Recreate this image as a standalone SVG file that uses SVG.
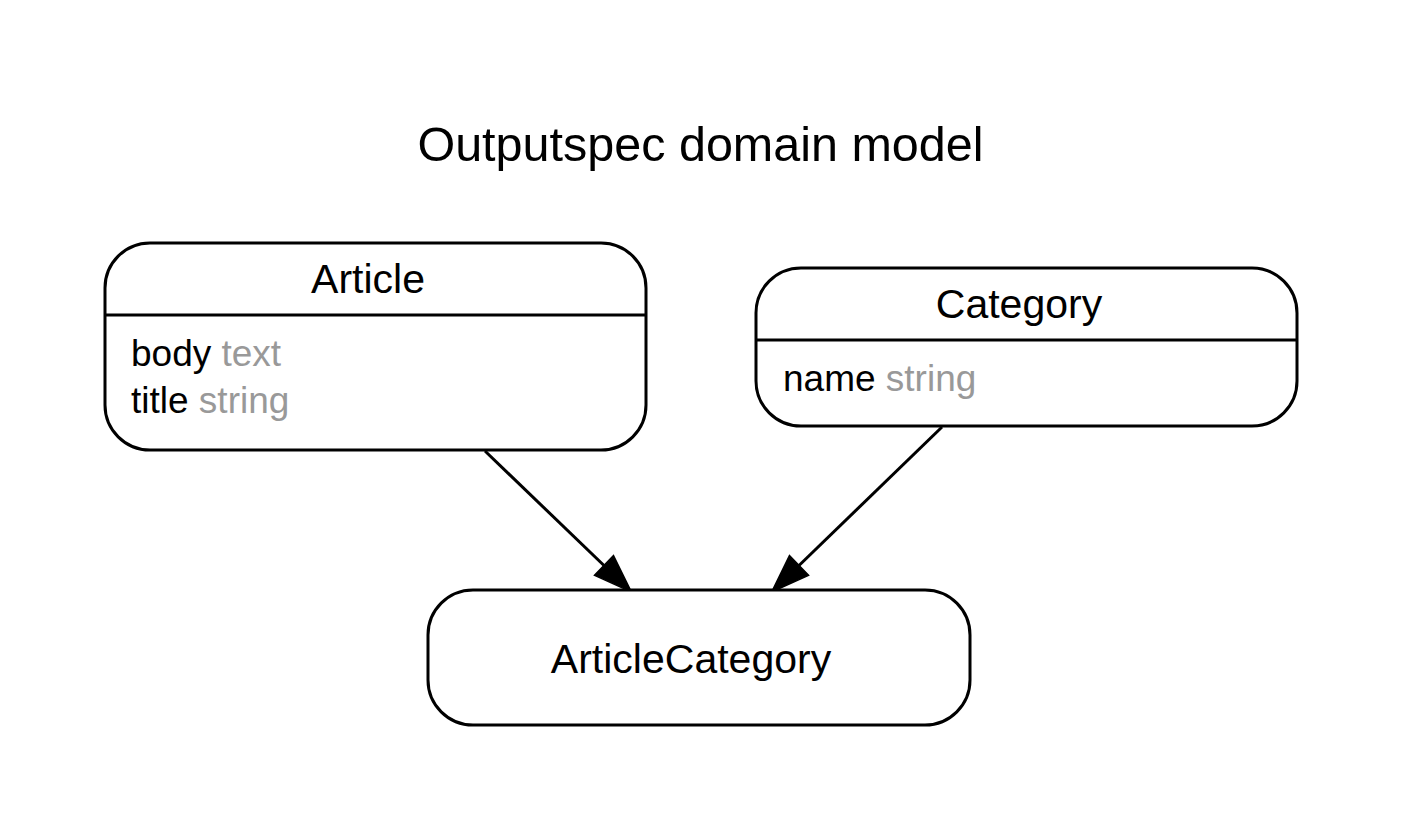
<svg xmlns="http://www.w3.org/2000/svg" width="1404" height="834" viewBox="0 0 1404 834">
<style>
.box{fill:#fff;stroke:#000;stroke-width:3}
.div{stroke:#000;stroke-width:3}
.name{font-family:"Liberation Sans",Arial,sans-serif;font-size:41px;fill:#000;text-anchor:middle}
.attr{font-family:"Liberation Sans",Arial,sans-serif;font-size:37px;fill:#000}
.type{fill:#999}
.title{font-family:"Liberation Sans",Arial,sans-serif;font-size:48.5px;fill:#000;text-anchor:middle}
.edge{stroke:#000;stroke-width:3;fill:none}
</style>
<defs>
<marker id="arrow" markerUnits="userSpaceOnUse" markerWidth="40" markerHeight="30" viewBox="0 -15 40 30" refX="0" refY="0" orient="auto" overflow="visible">
<path d="M0,-13.7 L38,0 L0,13.7 Z" fill="#000" stroke="#000" stroke-width="1.5" stroke-linejoin="miter"/>
</marker>
</defs>
<rect width="1404" height="834" fill="#fff"/>
<text class="title" x="700.5" y="161">Outputspec domain model</text>
<g id="connectors">
<line class="edge" x1="485" y1="451" x2="604" y2="565.5" marker-end="url(#arrow)"/>
<line class="edge" x1="942" y1="427" x2="799" y2="565.5" marker-end="url(#arrow)"/>
</g>
<g id="Article">
<rect class="box" x="105" y="243" width="541" height="207" rx="45" ry="45"/>
<line class="div" x1="105" y1="315" x2="646" y2="315"/>
<text class="name" x="368" y="293">Article</text>
<text class="attr" x="131" y="366">body <tspan class="type">text</tspan></text>
<text class="attr" x="131" y="413">title <tspan class="type">string</tspan></text>
</g>
<g id="Category">
<rect class="box" x="756" y="268" width="541" height="158" rx="45" ry="45"/>
<line class="div" x1="756" y1="340" x2="1297" y2="340"/>
<text class="name" x="1019" y="318">Category</text>
<text class="attr" x="783" y="391">name <tspan class="type">string</tspan></text>
</g>
<g id="ArticleCategory">
<rect class="box" x="428" y="590" width="542" height="135" rx="45" ry="45"/>
<text class="name" x="691" y="673">ArticleCategory</text>
</g>
</svg>
